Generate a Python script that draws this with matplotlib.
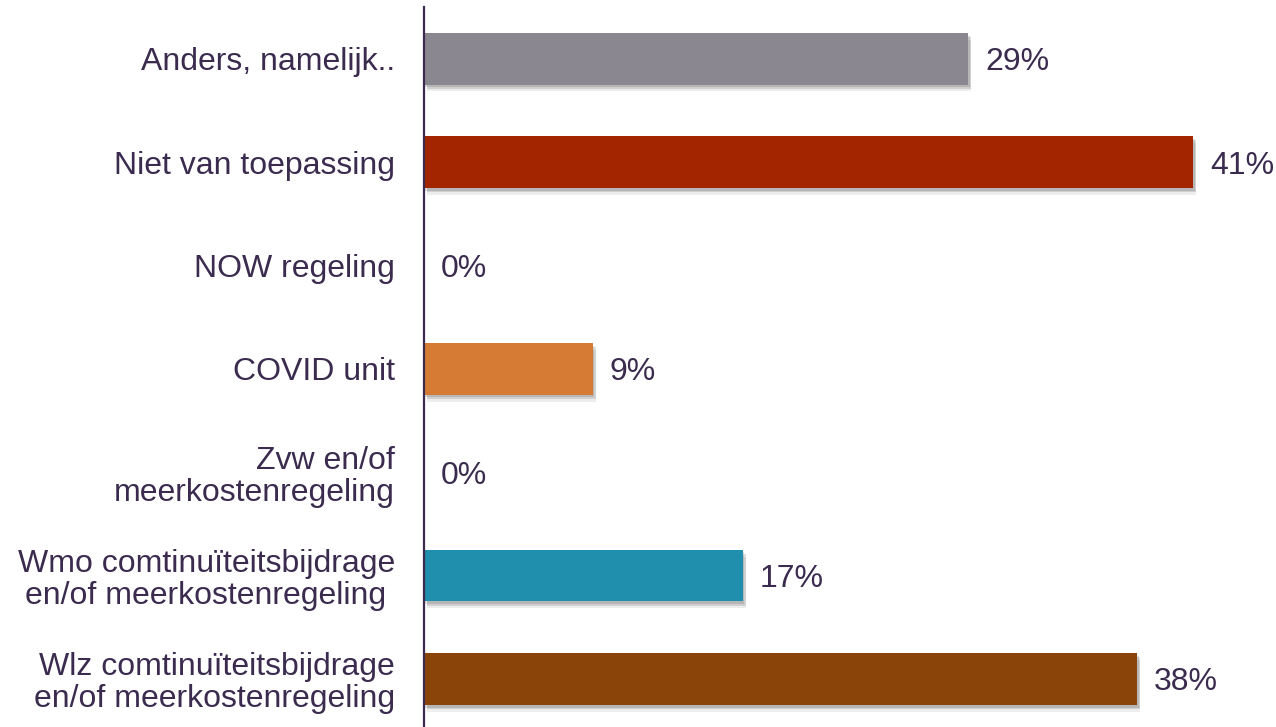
import matplotlib
matplotlib.use('Agg')
import matplotlib.pyplot as plt
import matplotlib.patheffects as pe

# data, bottom to top
categories = ['Wlz comtinuïteitsbijdrage\nen/of meerkostenregeling',
              'Wmo comtinuïteitsbijdrage\nen/of meerkostenregeling ',
              'Zvw en/of\nmeerkostenregeling',
              'COVID unit',
              'NOW regeling',
              'Niet van toepassing',
              'Anders, namelijk..']
values = [38, 17, 0, 9, 0, 41, 29]
colours = ['#8a4409', '#1f8fad', '#5a5a5a', '#d57b34', '#5a5a5a', '#a32500', '#8b8790']

textcol = '#3b2c4f'
plt.rcParams['font.family'] = ['Liberation Sans', 'DejaVu Sans']

fig = plt.figure(figsize=(12.76, 7.27), dpi=100, facecolor='w')
ax = fig.add_axes([424 / 1276, 0, 1 - 424 / 1276, 1 - 7 / 727])

shadow = [pe.SimplePatchShadow(offset=(1, -2), shadow_rgbFace='k', alpha=0.12),
          pe.SimplePatchShadow(offset=(2, -3), shadow_rgbFace='k', alpha=0.12),
          pe.SimplePatchShadow(offset=(2, -5), shadow_rgbFace='k', alpha=0.07),
          pe.Normal()]

ypos = list(range(len(categories)))
bars = ax.barh(ypos, values, height=0.5, color=colours, linewidth=0)
for b, v in zip(bars, values):
    if v > 0:
        b.set_path_effects(shadow)
    ax.annotate(f'{v}%', (v, b.get_y() + b.get_height() / 2), xytext=(12, 0),
                textcoords='offset points', va='center_baseline', ha='left',
                fontsize=23, color=textcol)

ax.set_xlim(0, 45.4)
ax.set_ylim(-0.465, 6.5)
ax.set_yticks(ypos)
ax.set_yticklabels(categories, fontsize=23, color=textcol, linespacing=1.08)
ax.yaxis.set_tick_params(length=0, pad=21)
ax.set_xticks([])
for s in ('top', 'right', 'bottom'):
    ax.spines[s].set_visible(False)
ax.spines['left'].set_color(textcol)
ax.spines['left'].set_linewidth(1.6)

fig.savefig('out.png', dpi=100, facecolor='w')
